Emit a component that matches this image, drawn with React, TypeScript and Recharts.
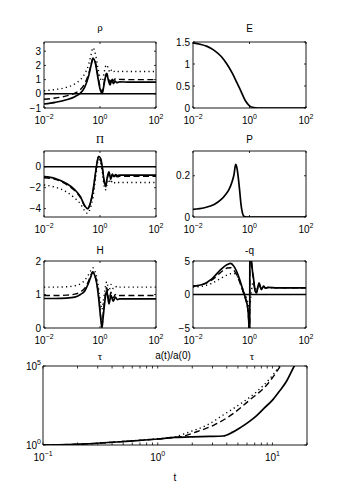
import { LineChart, Line, XAxis, YAxis, ReferenceLine } from 'recharts';

const SANS = '"Liberation Sans", Arial, Helvetica, sans-serif';
const SERIF = '"Liberation Serif", "Times New Roman", serif';

// rho panel
const rhoX = [0.01, 0.0251, 0.0631, 0.126, 0.2, 0.282, 0.398, 0.479, 0.562, 0.676, 0.832, 1.0, 1.202, 1.38, 1.549, 1.738, 1.995, 2.291, 2.63, 3.02, 3.467, 3.981, 5.012, 10, 31.6, 100];
const rhoSolid = [-0.72, -0.6, -0.42, -0.2, 0.05, 0.45, 1.3, 2.0, 2.5, 2.2, 1.2, 0.35, 0.02, 0.6, 1.15, 1.38, 0.95, 0.62, 0.98, 0.72, 0.9, 0.78, 0.84, 0.82, 0.82, 0.82];
const rhoDashed = [-0.38, -0.3, -0.15, 0.05, 0.3, 0.7, 1.45, 2.05, 2.5, 2.25, 1.35, 0.5, 0.15, 0.7, 1.25, 1.45, 1.1, 0.8, 1.12, 0.9, 1.05, 0.96, 1.02, 1.0, 1.0, 1.0];
const rhoDotted = [0.22, 0.3, 0.45, 0.7, 1.0, 1.4, 2.1, 2.75, 3.25, 2.85, 1.9, 1.15, 0.9, 1.4, 1.9, 2.05, 1.75, 1.5, 1.7, 1.55, 1.62, 1.56, 1.58, 1.57, 1.57, 1.57];

// E panel
const eX = [0.01, 0.0178, 0.0316, 0.0562, 0.1, 0.158, 0.251, 0.355, 0.501, 0.708, 1.0, 1.413, 1.995, 3.162, 10, 100];
const eSolid = [1.48, 1.45, 1.4, 1.31, 1.17, 1.0, 0.78, 0.58, 0.38, 0.17, 0.05, 0.01, 0.0, 0.0, 0.0, 0.0];

// Pi panel
const piX = [0.01, 0.0251, 0.0631, 0.126, 0.2, 0.282, 0.355, 0.447, 0.562, 0.708, 0.891, 1.047, 1.202, 1.38, 1.585, 1.82, 2.089, 2.399, 2.754, 3.162, 3.631, 4.169, 5.012, 10, 31.6, 100];
const piSolid = [-0.95, -1.12, -1.6, -2.2, -2.86, -3.7, -4.0, -3.5, -2.3, -0.4, 1.0, 0.8, 0.0, -1.2, -1.85, -1.0, -0.5, -1.1, -0.7, -0.95, -0.75, -0.85, -0.8, -0.8, -0.8, -0.8];
const piDashed = [-1.05, -1.2, -1.7, -2.3, -2.95, -3.75, -4.05, -3.55, -2.4, -0.5, 0.95, 0.7, -0.1, -1.3, -1.95, -1.15, -0.65, -1.2, -0.85, -1.05, -0.88, -0.97, -0.92, -0.92, -0.92, -0.92];
const piDotted = [-1.75, -1.95, -2.4, -3.0, -3.55, -4.2, -4.45, -4.0, -2.9, -0.9, 0.7, 0.4, -0.5, -1.7, -2.2, -1.6, -1.2, -1.6, -1.35, -1.55, -1.45, -1.5, -1.5, -1.5, -1.5, -1.5];

// P panel
const pX = [0.01, 0.0251, 0.0562, 0.1, 0.141, 0.191, 0.24, 0.282, 0.324, 0.363, 0.398, 0.447, 0.501, 0.562, 0.631, 0.794, 1.0, 10, 100];
const pSolid = [0.037, 0.045, 0.061, 0.085, 0.108, 0.135, 0.17, 0.205, 0.255, 0.235, 0.195, 0.13, 0.06, 0.02, 0.004, 0, 0, 0, 0];

// H panel
const hX = [0.01, 0.0251, 0.0631, 0.126, 0.2, 0.282, 0.38, 0.457, 0.55, 0.661, 0.794, 0.933, 1.072, 1.175, 1.288, 1.445, 1.738, 2.089, 2.455, 2.951, 3.548, 4.169, 5.012, 10, 31.6, 100];
const hSolid = [0.88, 0.88, 0.89, 0.92, 1.0, 1.1, 1.32, 1.5, 1.66, 1.55, 1.25, 0.75, 0.25, 0.0, 0.3, 0.7, 1.12, 0.72, 0.98, 0.8, 0.92, 0.85, 0.87, 0.87, 0.87, 0.87];
const hDashed = [0.97, 0.97, 0.98, 1.01, 1.08, 1.18, 1.38, 1.55, 1.68, 1.57, 1.28, 0.8, 0.3, 0.08, 0.38, 0.78, 1.2, 0.82, 1.07, 0.9, 1.0, 0.95, 0.97, 0.97, 0.97, 0.97];
const hDotted = [1.22, 1.22, 1.23, 1.26, 1.32, 1.42, 1.58, 1.7, 1.8, 1.7, 1.45, 1.05, 0.7, 0.55, 0.75, 1.05, 1.38, 1.1, 1.3, 1.18, 1.25, 1.2, 1.22, 1.22, 1.22, 1.22];

// -q panel
const qX = [0.01, 0.0214, 0.0479, 0.0955, 0.162, 0.214, 0.282, 0.355, 0.427, 0.501, 0.603, 0.692, 0.776, 0.851, 0.912, 0.966, 1.0, 1.047, 1.148, 1.259, 1.38, 1.585, 1.778, 1.995, 2.188, 2.399, 2.63, 2.884, 3.162, 3.631, 4.467, 10, 31.6, 100];
const qSolid = [1.24, 1.49, 2.38, 3.7, 4.46, 4.65, 4.2, 3.4, 2.5, 1.6, 0.5, -0.3, -1.0, -1.8, -3.0, -5.5, -25, 25, 6, 3.7, 2.5, 0.5, 0.25, 1.2, 1.73, 1.2, 0.74, 1.0, 1.24, 0.95, 1.05, 1.0, 1.0, 1.0];
const qDashed = [1.24, 1.47, 2.2, 3.3, 3.95, 4.0, 3.6, 2.9, 2.1, 1.3, 0.3, -0.45, -1.1, -1.9, -3.1, -5.6, -25, 25, 6, 3.6, 2.4, 0.6, 0.4, 1.2, 1.6, 1.2, 0.8, 1.0, 1.2, 0.96, 1.04, 1.0, 1.0, 1.0];
const qDotted = [1.1, 1.24, 1.7, 2.4, 2.9, 3.1, 3.15, 2.8, 2.2, 1.5, 0.6, 0.0, -0.5, -1.0, -1.5, -1.9, -2.0, -1.5, 0.0, 1.5, 1.8, 1.0, 0.6, 1.1, 1.35, 1.15, 0.9, 1.0, 1.1, 0.97, 1.02, 1.0, 1.0, 1.0];

// tau panel: a(t)/a(0)
const tauSolidX = [0.1, 0.251, 0.501, 1.0, 1.413, 1.995, 2.818, 3.715, 4.467, 5.248, 6.31, 7.244, 8.511, 10, 11.48, 13.18, 15.49, 19.95];
const tauSolid = [1, 1.2, 1.66, 2.4, 3.0, 3.3, 3.47, 3.7, 6.3, 12.6, 31.6, 70.8, 224, 692, 2512, 10000, 100000, 2000000];
const tauDashedX = [0.1, 0.251, 0.501, 1.0, 1.413, 1.585, 2.188, 3.09, 4.571, 6.31, 8.913, 11.75, 15.85];
const tauDashed = [1, 1.2, 1.66, 2.4, 3.0, 3.3, 6.9, 18.2, 100, 692, 6310, 100000, 3200000];
const tauDottedX = [0.1, 0.251, 0.501, 1.0, 1.38, 1.905, 2.692, 3.715, 5.248, 7.244, 10, 11.48, 15.85];
const tauDotted = [1, 1.2, 1.7, 2.5, 3.16, 6.9, 18.2, 79, 398, 2290, 25100, 100000, 4000000];

// axis ticks
const smallXTicks = [0.01, 1, 100];
const tauXMajor = [0.1, 1, 10];
const tauXTicks = [0.1, 0.2, 0.3, 0.4, 0.5, 0.6, 0.7, 0.8, 0.9, 1, 2, 3, 4, 5, 6, 7, 8, 9, 10, 20];
const tauYTicks = [1, 100000];

type Kind = 'solid' | 'dashed' | 'dotted';
type Curve = { xs: number[]; ys: number[]; kind: Kind };
type Box = { x: number; y: number; w: number; h: number };

const STYLE: Record<Kind, { strokeWidth: number; strokeDasharray?: string }> = {
  solid: { strokeWidth: 1.7 },
  dashed: { strokeWidth: 1.4, strokeDasharray: '6 3.5' },
  dotted: { strokeWidth: 1.4, strokeDasharray: '1.2 3.2' },
};

const minus = (s: string) => s.replace('-', '\u2212');
const pow10 = (v: number) => minus(String(Math.round(Math.log10(v))));

function Pow({ x, y, v, anchor }: { x: number; y: number; v: number; anchor: 'middle' | 'end' }) {
  return (
    <text x={x} y={y} textAnchor={anchor} fontSize={10} fontFamily={SANS} fill="#000">
      10<tspan dy={-5} fontSize={7}>{pow10(v)}</tspan>
    </text>
  );
}

function Panel({ box, xDomain, xTicks, xMajor, yDomain, yTicks, logY, curves, zero, tl }: {
  box: Box; xDomain: number[]; xTicks: number[]; xMajor: number[]; yDomain: number[]; yTicks: number[];
  logY?: boolean; curves: Curve[]; zero?: boolean; tl: number;
}) {
  const padL = 44, padT = 10, padR = 10, padB = 24;
  const isMajor = (v: number) => xMajor.some((m) => Math.abs(m - v) < 1e-9);
  const bottomTick = (p: any) => {
    const v = p.payload.value;
    return (
      <g>
        <line x1={p.x} x2={p.x} y1={p.y} y2={p.y - tl} stroke="#000" strokeWidth={0.8} />
        {isMajor(v) && <Pow x={p.x} y={p.y + 16} v={v} anchor="middle" />}
      </g>
    );
  };
  const topTick = (p: any) => (
    <line x1={p.x} x2={p.x} y1={p.y} y2={p.y + tl} stroke="#000" strokeWidth={0.8} />
  );
  const leftTick = (p: any) => {
    const v = p.payload.value;
    return (
      <g>
        <line x1={p.x} x2={p.x + tl} y1={p.y} y2={p.y} stroke="#000" strokeWidth={0.8} />
        {logY ? (
          <Pow x={p.x - 2} y={p.y + 4} v={v} anchor="end" />
        ) : (
          <text x={p.x - 3} y={p.y} dy="0.35em" textAnchor="end" fontSize={10} fontFamily={SANS} fill="#000">
            {minus(String(v))}
          </text>
        )}
      </g>
    );
  };
  const rightTick = (p: any) => (
    <line x1={p.x} x2={p.x - tl} y1={p.y} y2={p.y} stroke="#000" strokeWidth={0.8} />
  );
  const axisLine = { stroke: '#000', strokeWidth: 0.9 };

  return (
    <div style={{ position: 'absolute', left: box.x - padL, top: box.y - padT }}>
      <LineChart
        width={box.w + padL + padR}
        height={box.h + padT + padB}
        margin={{ top: padT - 8, right: padR - 8, bottom: 0, left: 0 }}
      >
        <XAxis xAxisId="b" type="number" dataKey="x" scale="log" domain={xDomain} allowDataOverflow
          ticks={xTicks} interval={0} height={padB} tickSize={0} tickMargin={0} tickLine={false}
          axisLine={axisLine} tick={bottomTick} />
        <XAxis xAxisId="t" orientation="top" type="number" dataKey="x" scale="log" domain={xDomain} allowDataOverflow
          ticks={xTicks} interval={0} height={8} tickSize={0} tickMargin={0} tickLine={false}
          axisLine={axisLine} tick={topTick} />
        <YAxis yAxisId="l" type="number" scale={logY ? 'log' : 'linear'} domain={yDomain} allowDataOverflow
          ticks={yTicks} interval={0} width={padL} tickSize={0} tickMargin={0} tickLine={false}
          axisLine={axisLine} tick={leftTick} />
        <YAxis yAxisId="r" orientation="right" type="number" scale={logY ? 'log' : 'linear'} domain={yDomain} allowDataOverflow
          ticks={yTicks} interval={0} width={8} tickSize={0} tickMargin={0} tickLine={false}
          axisLine={axisLine} tick={rightTick} />
        {zero && <ReferenceLine xAxisId="b" yAxisId="l" y={0} stroke="#000" strokeWidth={1.4} />}
        {curves.map((c, i) => (
          <Line
            key={i}
            xAxisId="b"
            yAxisId="l"
            data={c.xs.map((x, j) => ({ x, y: c.ys[j] }))}
            dataKey="y"
            type="monotone"
            stroke="#000"
            fill="none"
            {...STYLE[c.kind]}
            dot={false}
            activeDot={false}
            isAnimationActive={false}
          />
        ))}
      </LineChart>
    </div>
  );
}

const LX = 44, RX = 193, LW = 112, RW = 113;
const smallX = { xDomain: [0.01, 100], xTicks: smallXTicks, xMajor: smallXTicks, tl: 2 };

export default function App() {
  return (
    <div style={{ position: 'absolute', left: 0, top: 0, width: 339, height: 502, background: '#fff' }}>
      <Panel box={{ x: LX, y: 42, w: LW, h: 66 }} {...smallX} yDomain={[-1, 3.65]} yTicks={[-1, 0, 1, 2, 3]} zero
        curves={[{ xs: rhoX, ys: rhoDotted, kind: 'dotted' }, { xs: rhoX, ys: rhoDashed, kind: 'dashed' }, { xs: rhoX, ys: rhoSolid, kind: 'solid' }]} />
      <Panel box={{ x: RX, y: 42, w: RW, h: 66 }} {...smallX} yDomain={[0, 1.5]} yTicks={[0, 0.5, 1, 1.5]}
        curves={[{ xs: eX, ys: eSolid, kind: 'solid' }]} />
      <Panel box={{ x: LX, y: 151, w: LW, h: 66 }} {...smallX} yDomain={[-4.8, 1.5]} yTicks={[-4, -2, 0]} zero
        curves={[{ xs: piX, ys: piDotted, kind: 'dotted' }, { xs: piX, ys: piDashed, kind: 'dashed' }, { xs: piX, ys: piSolid, kind: 'solid' }]} />
      <Panel box={{ x: RX, y: 151, w: RW, h: 66 }} {...smallX} yDomain={[0, 0.32]} yTicks={[0, 0.2]}
        curves={[{ xs: pX, ys: pSolid, kind: 'solid' }]} />
      <Panel box={{ x: LX, y: 261, w: LW, h: 67 }} {...smallX} yDomain={[0, 2]} yTicks={[0, 1, 2]}
        curves={[{ xs: hX, ys: hDotted, kind: 'dotted' }, { xs: hX, ys: hDashed, kind: 'dashed' }, { xs: hX, ys: hSolid, kind: 'solid' }]} />
      <Panel box={{ x: RX, y: 261, w: RW, h: 67 }} {...smallX} yDomain={[-5, 5]} yTicks={[-5, 0, 5]} zero
        curves={[{ xs: qX, ys: qDotted, kind: 'dotted' }, { xs: qX, ys: qDashed, kind: 'dashed' }, { xs: qX, ys: qSolid, kind: 'solid' }]} />
      <Panel box={{ x: 43, y: 366, w: 264, h: 79 }} xDomain={[0.1, 20]} xTicks={tauXTicks} xMajor={tauXMajor} tl={2.5}
        yDomain={[1, 100000]} yTicks={tauYTicks} logY
        curves={[{ xs: tauDottedX, ys: tauDotted, kind: 'dotted' }, { xs: tauDashedX, ys: tauDashed, kind: 'dashed' }, { xs: tauSolidX, ys: tauSolid, kind: 'solid' }]} />

      <svg width={339} height={502} style={{ position: 'absolute', left: 0, top: 0, pointerEvents: 'none' }}>
        <g fontSize={11} fill="#000" textAnchor="middle">
          <text x={100} y={31} fontFamily={SERIF}>ρ</text>
          <text x={249.5} y={32} fontFamily={SANS} fontSize={10}>E</text>
          <text x={100} y={143} fontFamily={SERIF}>Π</text>
          <text x={249.5} y={143} fontFamily={SANS} fontSize={10}>P</text>
          <text x={100} y={254} fontFamily={SANS} fontSize={10}>H</text>
          <text x={249.5} y={254} fontFamily={SANS} fontSize={10}>-q</text>
          <text x={100} y={360} fontFamily={SERIF}>τ</text>
          <text x={173} y={359} fontFamily={SANS} fontSize={10}>a(t)/a(0)</text>
          <text x={252} y={360} fontFamily={SERIF}>τ</text>
          <text x={175} y={481} fontFamily={SANS} fontSize={10}>t</text>
        </g>
      </svg>
    </div>
  );
}
